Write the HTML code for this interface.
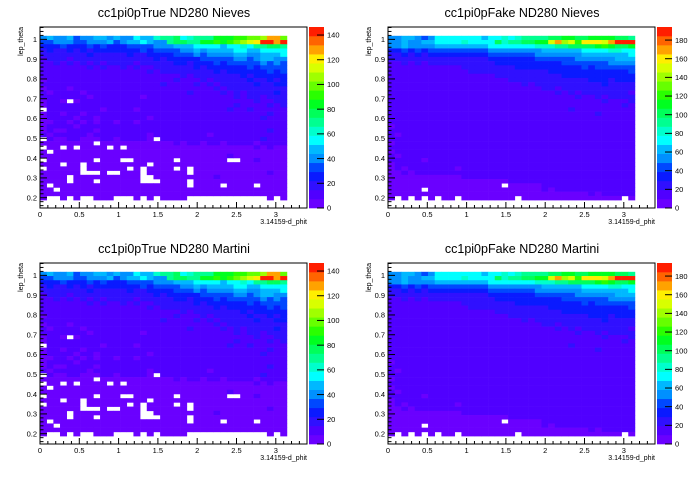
<!DOCTYPE html>
<html><head><meta charset="utf-8">
<style>
html,body{margin:0;padding:0;background:#fff;}
body{width:696px;height:472px;overflow:hidden;font-family:"Liberation Sans",sans-serif;}
svg text{font-family:"Liberation Sans",sans-serif;}
</style></head>
<body>
<svg id="c" width="696" height="472" viewBox="0 0 696 472" xmlns="http://www.w3.org/2000/svg"></svg>
<script>
// band index per cell (0-9, a-j = 10-19), '.' = empty bin; rows from top (y≈1.02) to bottom (y≈0.19)
const trueRows = [
"565564556656"+"5576689"+"9a789"+"99bbbc"+"cddehhd",
"445554455564"+"5667655"+"9aa99"+"bbcbcd"+"efgjjhj",
"333433343433"+"3444455"+"56667"+"777677"+"8799aa9",
"232232323333"+"3334344"+"44556"+"566667"+"7667777",
"222222232222"+"2322333"+"34445"+"455556"+"6556667",
"122212222222"+"2222232"+"33333"+"444445"+"5456655",
"112121212122"+"2212222"+"23323"+"334344"+"4445454",
"111111121211"+"2121122"+"22223"+"233333"+"3434444",
"111111111111"+"1111212"+"22222"+"223233"+"3333434",
"111111111111"+"1111111"+"11212"+"222222"+"3233333",
"011111111111"+"1111111"+"12111"+"212222"+"2322323",
"111111111111"+"1111112"+"11112"+"121222"+"2232233",
"011101111111"+"1111111"+"11111"+"112122"+"2222222",
"101111011111"+"1111111"+"11121"+"111212"+"1222232",
"111111101111"+"1110111"+"11111"+"111112"+"1221222",
"0110.0111111"+"1111111"+"11111"+"111111"+"1121122",
"011111111111"+"1111111"+"11111"+"111112"+"1111212",
".11111111011"+"1101111"+"11111"+"111121"+"1211111",
"011011011111"+"1111111"+"11111"+"111111"+"1111211",
"011110110111"+"1111011"+"11111"+"111111"+"1112111",
"001101010110"+"1101111"+"11111"+"111111"+"1111111",
"011110111111"+"1111111"+"11111"+"111111"+"1111111",
"010011110111"+"1111111"+"11111"+"111111"+"1111211",
"101111101111"+"1111011"+"11111"+"101111"+"1111111",
".10011000110"+"11110.1"+"11111"+"111111"+"1112111",
"00000000.000"+"0000000"+"01011"+"011011"+"1101111",
".00.0.0000.0"+".000000"+"00000"+"000000"+"0010100",
"0.0000000000"+"0000000"+"00000"+"000000"+"0000000",
"000000000000"+"0000000"+"00000"+"000010"+"0000000",
".0000000.000"+"..00000"+"0.000"+"0000.."+"0010000",
"000.00.00000"+"0000.00"+"00000"+"000000"+"0000000",
".00000.00000"+"0.0.000"+"0.0.0"+"000000"+"0000000",
"000000...0.."+"000.000"+"000.0"+"000000"+"0000100",
"0000.0000000"+"000..00"+"00000"+"001000"+"0000000",
"0000.000.000"+"000...0"+"000.0"+"000000"+"0000000",
"0.0000000000"+"0000000"+"000.0"+"000.00"+"00.0000",
"00.000000000"+"0000000"+"00000"+"000000"+"0000000",
"000000000000"+"0000000"+"00000"+"000000"+"0000000",
"0..0.0..000."+"..0.0.0"+"000.."+"......"+"....0.0"
];
const fakeRows = [
"556654577777"+"7767787"+"89999"+"aabbaa"+"bbbbaa9",
"556556677778"+"7777a89"+"9aabb"+"fhefcg"+"ggfhjjj",
"556555566666"+"6667777"+"77788"+"899aaa"+"abcbaab",
"334343444444"+"4445555"+"55556"+"666667"+"7778877",
"223232333333"+"3334444"+"44455"+"555556"+"6666667",
"222222222222"+"2223333"+"33344"+"444455"+"5555666",
"112121222222"+"2222333"+"33333"+"334444"+"4445555",
"111111111112"+"2222222"+"33333"+"333334"+"3444444",
"111111111111"+"2222222"+"22222"+"333333"+"3333334",
"111111111111"+"1111222"+"22222"+"223333"+"3333333",
"111111111111"+"1111112"+"22222"+"222222"+"3332333",
"111111111111"+"1111111"+"12122"+"222222"+"2232222",
"111111111111"+"1111111"+"11112"+"212222"+"2222222",
"111111111111"+"1111111"+"11111"+"121212"+"2222221",
"111111111111"+"1111111"+"11111"+"111121"+"1212222",
"111111111111"+"1111111"+"11111"+"111111"+"1121112",
"111111111111"+"1111111"+"11111"+"111111"+"1111121",
"111111111111"+"1111111"+"11111"+"111211"+"1111111",
"111111111111"+"1111111"+"11111"+"111111"+"1211111",
"111111111111"+"1111111"+"11111"+"111111"+"1111111",
"111111111111"+"1111111"+"11111"+"111111"+"1111111",
"011111111111"+"1111111"+"11111"+"111111"+"1111111",
"111111111111"+"1111111"+"11111"+"111111"+"1111111",
"101111111111"+"1111111"+"11111"+"111111"+"1111111",
"111111111111"+"1111111"+"11111"+"111111"+"1111111",
"011111111111"+"1111111"+"11111"+"111111"+"1111111",
"111111111111"+"1111111"+"11111"+"111111"+"1111111",
"011111111111"+"1111111"+"11111"+"111111"+"1111111",
"101111111111"+"1111111"+"11111"+"111111"+"1111111",
"111110111111"+"1111111"+"11111"+"111111"+"1111111",
"011111111111"+"1111111"+"11111"+"111111"+"1111111",
"010111111101"+"1111111"+"11111"+"111111"+"1111111",
"001011111111"+"1111111"+"11111"+"111111"+"1111111",
"000000000001"+"1111111"+"11111"+"111111"+"1111111",
"000000000000"+"0000001"+"11111"+"111111"+"1111111",
"000000000000"+"00000.0"+"00001"+"111111"+"1111111",
"00000.000000"+"0000000"+"00001"+"011111"+"1111111",
"000000000000"+"0000000"+"00000"+"000000"+"1011111",
"0.0.0.0.00.0"+"0000000"+".0000"+"000000"+"00000.0"
];
const panelTitles = ["cc1pi0pTrue ND280 Nieves","cc1pi0pFake ND280 Nieves","cc1pi0pTrue ND280 Martini","cc1pi0pFake ND280 Martini"];
const zMaxes = [146.5, 194, 146.5, 194];
const zTickStep = [20, 20, 20, 20];
const xTicks = [0,0.5,1,1.5,2,2.5,3];
const yTicks = [0.2,0.3,0.4,0.5,0.6,0.7,0.8,0.9,1];

const palette = ["#6a00ff","#5000ff","#3010ff","#0a1aff","#0048ff","#0090ff","#00b8ff","#00ffff","#00ffcc","#00ff90","#00ff5a","#00ff20","#2aff00","#66ff00","#a0ff00","#d8ff00","#ffee00","#ffa200","#ff6400","#ff1e00"];
const NS="http://www.w3.org/2000/svg";
const svg=document.getElementById('c');
function mk(tag,attrs,parent){const e=document.createElementNS(NS,tag);for(const k in attrs)e.setAttribute(k,attrs[k]);(parent||svg).appendChild(e);return e;}
const FX0=40,FX1=307,FY0=27,FY1=208;
const XMIN=0,XMAX=3.397,YMIN=0.148,YMAX=1.0625;
const DXMIN=0,DXMAX=Math.PI,DYMIN=0.188,DYMAX=1.018;
function band(ch){if(ch==='.')return -1;const c=ch.charCodeAt(0);return c<=57?c-48:c-87;}

function drawPanel(p,ox,oy){
  const rows=p%2===0?trueRows:fakeRows;
  const zmax=zMaxes[p];
  const g=mk('g',{transform:`translate(${ox},${oy})`});
  
  
  const sx=v=>FX0+(v-XMIN)/(XMAX-XMIN)*(FX1-FX0);
  const sy=v=>FY1-(v-YMIN)/(YMAX-YMIN)*(FY1-FY0);
  const zc=v=>palette[Math.min(19,Math.max(0,Math.floor(v/zmax*20)))];
  const t=mk('text',{x:174,y:17,'text-anchor':'middle','font-size':12.5,fill:'#000'},g);
  t.textContent=panelTitles[p];
  
  
  const cells=mk('g',{},g);
  
  
  const nr=rows.length;
  for(let r=0;r<nr;r++){
    const row=rows[r];const nc=row.length;
    for(let c=0;c<nc;c++){
      const b=band(row[c]);if(b<0)continue;
      const val=(b+0.5)*zmax/20;
      const x0=DXMIN+c*(DXMAX-DXMIN)/nc,x1=DXMIN+(c+1)*(DXMAX-DXMIN)/nc;
      const y1=DYMAX-r*(DYMAX-DYMIN)/nr,y0=DYMAX-(r+1)*(DYMAX-DYMIN)/nr;
      const rc=mk('rect',{x:sx(x0),y:sy(y1),width:sx(x1)-sx(x0)+0.3,height:sy(y0)-sy(y1)+0.3,fill:zc(val)},cells);
      
      
    }
  }
  const fr=mk('rect',{x:FX0,y:FY0,width:FX1-FX0,height:FY1-FY0,fill:'none',stroke:'#000','stroke-width':1},g);
  
  
  for(let v=0;v<=3.39;v+=0.1){
    const vv=Math.round(v*10)/10;const major=Math.abs(vv*2-Math.round(vv*2))<1e-6;
    mk('line',{x1:sx(vv),x2:sx(vv),y1:FY1,y2:FY1-(major?6:3),stroke:'#000','stroke-width':1},g);
  }
  xTicks.forEach(v=>{const e=mk('text',{x:sx(v),y:FY1+9,'text-anchor':'middle','font-size':7.5},g);e.textContent=String(v);
    });
  for(let i=8;i<=53;i++){
    const vv=i*0.02;if(vv<YMIN||vv>YMAX)continue;const major=i%5===0;
    mk('line',{x1:FX0,x2:FX0+(major?7:3.5),y1:sy(vv),y2:sy(vv),stroke:'#000','stroke-width':1},g);
  }
  yTicks.forEach(v=>{const e=mk('text',{x:FX0-3,y:sy(v)+2.7,'text-anchor':'end','font-size':7.5},g);e.textContent=String(v);
    });
  const xl=mk('text',{x:FX1,y:FY1+16,'text-anchor':'end','font-size':7},g);xl.textContent='3.14159-d_phit';
  
  const yl=mk('text',{x:0,y:0,'text-anchor':'end','font-size':7,transform:`translate(23,${FY0}) rotate(-90)`},g);yl.textContent='lep_theta';
  
  const pal=mk('g',{},g);
  
  
  const PX0=309,PX1=324,ph=(FY1-FY0)/20;
  for(let i=0;i<20;i++){mk('rect',{x:PX0,y:FY1-(i+1)*ph,width:PX1-PX0,height:ph+0.3,fill:palette[i]},pal);}
  const zs=v=>FY1-v/zmax*(FY1-FY0);
  for(let v=0;v<=zmax;v+=zTickStep[p]){
    mk('line',{x1:PX1-7,x2:PX1,y1:zs(v),y2:zs(v),stroke:'#000','stroke-width':1},pal);
    const e=mk('text',{x:PX1+3,y:zs(v)+2.7,'font-size':7.5},pal);e.textContent=String(v);
    
  }
}
drawPanel(0,0,0);drawPanel(1,348,0);drawPanel(2,0,236);drawPanel(3,348,236);
</script>
</body></html>
